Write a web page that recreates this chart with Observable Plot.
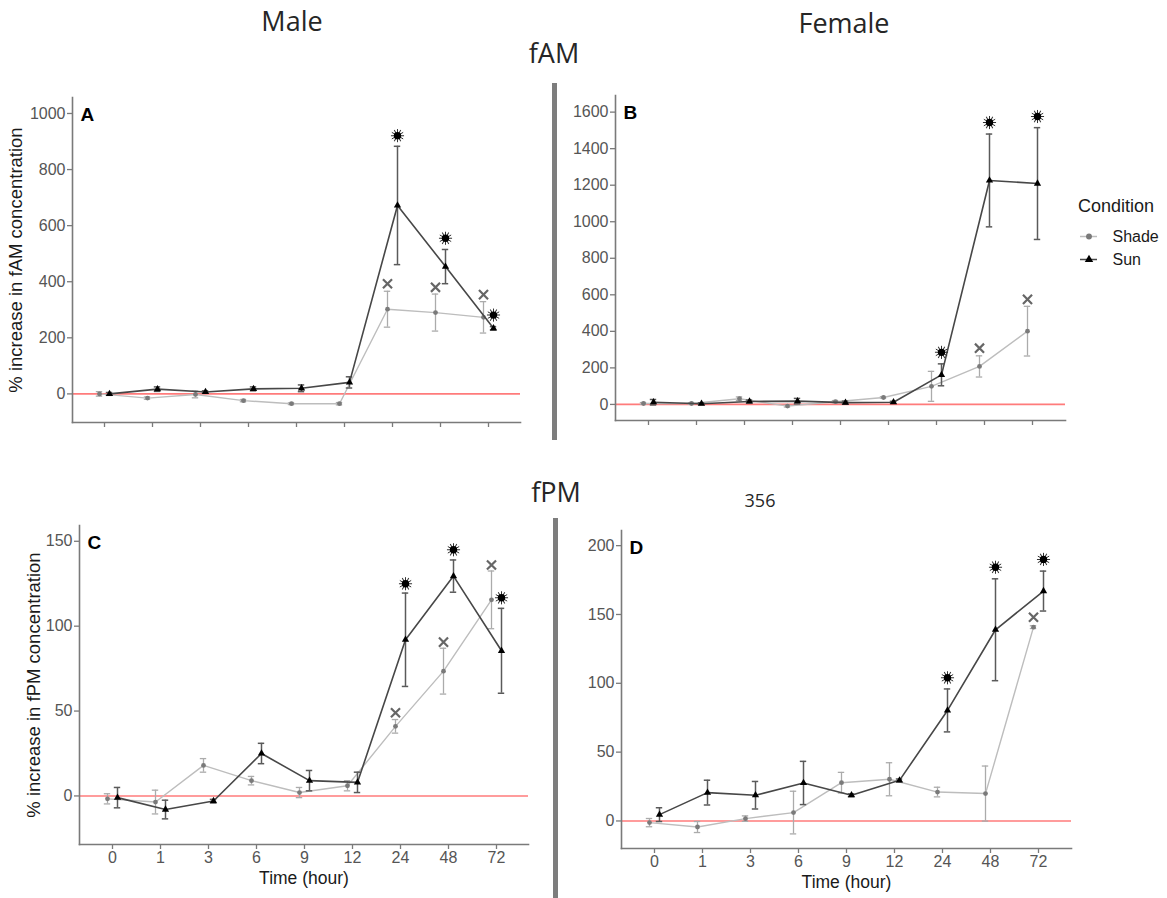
<!DOCTYPE html>
<html><head><meta charset="utf-8">
<script src="https://cdn.jsdelivr.net/npm/d3@7"></script>
<script src="https://cdn.jsdelivr.net/npm/@observablehq/plot@0.6"></script>
<style>
body{margin:0;background:#fff;}
#wrap{position:relative;width:1167px;height:898px;overflow:hidden;background:#fff;font-family:"Liberation Sans",Arial,sans-serif;}
.ttl{position:absolute;font-family:"Open Sans",sans-serif;color:#262626;line-height:1;white-space:nowrap;transform:translateX(-50%);}
.sep{position:absolute;background:#7d7d7d;}
</style></head><body><div id="wrap"></div>
<script>
// ---------- data ----------
const times = ["0","1","3","6","9","12","24","48","72"];
const conditions = ["Shade","Sun"];

// A: male fAM
const aSun      = [0, 17, 7, 18, 20, 41, 672, 454, 234];
const aSunErr   = [5, 8, 4, 7, 12, 20, 211, 61, 6];
const aShade    = [0, -15, -2, -24, -35, -35, 302, 290, 273];
const aShadeErr = [8, 4, 12, 4, 3, 4, 64, 66, 56];
const aSunMark  = [null, null, null, null, null, null, 921, 555, 281];
const aShadeMark= [null, null, null, null, null, null, 393, 380, 354];

// B: female fAM
const bSun      = [12, 4, 16, 18, 10, 12, 162, 1226, 1209];
const bSunErr   = [15, 5, 8, 15, 8, 5, 60, 254, 306];
const bShade    = [5, 5, 31, -9, 15, 38, 99, 208, 401];
const bShadeErr = [5, 4, 10, 5, 6, 4, 82, 58, 136];
const bSunMark  = [null, null, null, null, null, null, 285, 1543, 1576];
const bShadeMark= [null, null, null, null, null, null, null, 308, 575];

// C: male fPM
const cSun      = [-1, -8, -3, 25, 9, 8, 92, 129.5, 85.5];
const cSunErr   = [6, 5.5, 1, 6, 6, 6, 27.5, 9.5, 25];
const cShade    = [-1.7, -3.6, 18, 9, 2, 6, 41, 73.5, 115.5];
const cShadeErr = [3, 7, 4, 2.5, 3, 3, 4, 13.5, 17];
const cSunMark  = [null, null, null, null, null, null, 125, 145, 116.7];
const cShadeMark= [null, null, null, null, null, null, 49, 90.6, 136];

// D: female fPM
const dSun      = [4.6, 20.6, 18.7, 27.6, 18.7, 29.5, 80.3, 138.9, 167];
const dSunErr   = [5, 9, 10, 15.7, 1, 1, 15.6, 37, 14.5];
const dShade    = [-1.2, -4.4, 1.7, 6.1, 27.8, 30.3, 21, 19.9, 140.8];
const dShadeErr = [3, 4, 2, 15.5, 7.5, 12, 3.5, 20, 1];
const dSunMark  = [null, null, null, null, null, null, 104, 184.3, 190];
const dShadeMark= [null, null, null, null, null, null, null, null, 148];

const ticksA = [0, 200, 400, 600, 800, 1000];
const ticksB = [0, 200, 400, 600, 800, 1000, 1200, 1400, 1600];
const ticksC = [0, 50, 100, 150];
const ticksD = [0, 50, 100, 150, 200];

// ---------- styles ----------
const C = {
  shadeLine: "#bdbdbd", shadeErr: "#ababab", shadeDot: "#7a7a7a", shadeX: "#666",
  sunLine: "#474747", sunErr: "#5a5a5a", sunDot: "#000",
  axis: "#7a7a7a", tick: "#555", title: "#1a1a1a", zero: "#ff7b7b"
};
const FONT = "Liberation Sans, Arial, sans-serif";

const wrap = document.getElementById("wrap");
function place(el, left, top) {
  el.style.position = "absolute"; el.style.left = left + "px"; el.style.top = top + "px";
  wrap.appendChild(el);
}

function panel(o) {
  const rows = (v, e, m) => times.map((t, i) => ({time: t, v: v[i], lo: v[i] - e[i], hi: v[i] + e[i], m: m[i]}));
  const sh = rows(o.shade, o.shadeErr, o.shadeMark);
  const su = rows(o.sun, o.sunErr, o.sunMark);
  const dodge = 5;
  const stars = su.filter(d => d.m != null);
  const marks = [
    Plot.ruleY([0], {stroke: C.zero, strokeWidth: 1.6}),
    // shade
    Plot.ruleX(sh, {x: "time", y1: "lo", y2: "hi", stroke: C.shadeErr, strokeWidth: 1.3, dx: -dodge}),
    Plot.tickY(sh, {x: "time", y: "hi", stroke: C.shadeErr, strokeWidth: 1.3, insetLeft: 1.8, insetRight: 1.8, dx: -dodge}),
    Plot.tickY(sh, {x: "time", y: "lo", stroke: C.shadeErr, strokeWidth: 1.3, insetLeft: 1.8, insetRight: 1.8, dx: -dodge}),
    Plot.line(sh, {x: "time", y: "v", stroke: C.shadeLine, strokeWidth: 1.4, dx: -dodge}),
    Plot.dot(sh, {x: "time", y: "v", r: 2.4, fill: C.shadeDot, dx: -dodge}),
    // sun
    Plot.ruleX(su, {x: "time", y1: "lo", y2: "hi", stroke: C.sunErr, strokeWidth: 1.5, dx: dodge}),
    Plot.tickY(su, {x: "time", y: "hi", stroke: C.sunErr, strokeWidth: 1.5, insetLeft: 1.8, insetRight: 1.8, dx: dodge}),
    Plot.tickY(su, {x: "time", y: "lo", stroke: C.sunErr, strokeWidth: 1.5, insetLeft: 1.8, insetRight: 1.8, dx: dodge}),
    Plot.line(su, {x: "time", y: "v", stroke: C.sunLine, strokeWidth: 1.6, dx: dodge}),
    Plot.dot(su, {x: "time", y: "v", r: 2.7, symbol: "triangle", fill: C.sunDot, dx: dodge}),
    // significance marks
    Plot.dot(sh.filter(d => d.m != null), {x: "time", y: "m", symbol: "times", r: 4.2, stroke: C.shadeX, strokeWidth: 2.2, dx: -dodge}),
    Plot.dot(stars, {x: "time", y: "m", symbol: "asterisk", r: 6.2, stroke: "#333", strokeWidth: 1, dx: dodge}),
    Plot.dot(stars, {x: "time", y: "m", symbol: "asterisk", r: 6.2, rotate: 30, stroke: "#333", strokeWidth: 1, dx: dodge}),
    Plot.dot(stars, {x: "time", y: "m", r: 3.7, fill: "#000", dx: dodge}),
    // panel letter
    Plot.text([o.letter], {text: d => d, frameAnchor: "top-left", textAnchor: "start", lineAnchor: "top", dx: 8, dy: 10, fontSize: 19, fontWeight: "bold", fill: "#000"}),
    // axes
    Plot.frame({anchor: "left", stroke: C.axis, strokeWidth: 1.6}),
    Plot.frame({anchor: "bottom", stroke: C.axis, strokeWidth: 1.6}),
    Plot.axisY({ticks: o.yTicks, tickFormat: "d", tickSize: 5, tickPadding: 2, fontSize: 16, fill: C.tick, stroke: C.axis, strokeWidth: 1.3, label: null}),
    o.xLabels
      ? Plot.axisX({tickSize: 5, tickPadding: 2, fontSize: 16, fill: C.tick, stroke: C.axis, strokeWidth: 1.3, label: null})
      : Plot.axisX({tickSize: 5, tickFormat: () => "", stroke: C.axis, strokeWidth: 1.3, label: null})
  ];
  if (o.yLabel) marks.push(Plot.axisY({ticks: [], tickSize: 0, label: o.yLabel, labelAnchor: "center", labelArrow: "none", labelOffset: o.yLabelOffset, fontSize: 18.5, fill: C.title}));
  if (o.xLabel) marks.push(Plot.axisX({ticks: [], tickSize: 0, label: o.xLabel, labelAnchor: "center", labelArrow: "none", labelOffset: o.xLabelOffset, fontSize: 17.5, fill: C.title}));
  return Plot.plot({
    width: o.width, height: o.height,
    marginLeft: o.ml, marginRight: o.mr, marginTop: o.mt, marginBottom: o.mb,
    style: {fontFamily: FONT, fontSize: "16px", background: "transparent", overflow: "visible"},
    x: {type: "band", domain: times, paddingInner: 0.8, paddingOuter: 0.5},
    y: {domain: o.yDomain},
    marks
  });
}

// A
place(panel({letter: "A", sun: aSun, sunErr: aSunErr, shade: aShade, shadeErr: aShadeErr, sunMark: aSunMark, shadeMark: aShadeMark,
  yTicks: ticksA, yDomain: [-102, 1057], yLabel: "% increase in fAM concentration", yLabelOffset: 64,
  width: 540, height: 362, ml: 72, mr: 20, mt: 17, mb: 20}), 0, 80);
// B
place(panel({letter: "B", sun: bSun, sunErr: bSunErr, shade: bShade, shadeErr: bShadeErr, sunMark: bSunMark, shadeMark: bShadeMark,
  yTicks: ticksB, yDomain: [-88, 1691],
  width: 520, height: 360, ml: 55, mr: 15, mt: 15, mb: 20}), 560, 80);
// C
place(panel({letter: "C", sun: cSun, sunErr: cSunErr, shade: cShade, shadeErr: cShadeErr, sunMark: cSunMark, shadeMark: cShadeMark,
  yTicks: ticksC, yDomain: [-28.6, 159.3], yLabel: "% increase in fPM concentration", yLabelOffset: 53,
  xLabels: true, xLabel: "Time (hour)", xLabelOffset: 39,
  width: 545, height: 384, ml: 79, mr: 17, mt: 15, mb: 50}), 0, 510);
// D
place(panel({letter: "D", sun: dSun, sunErr: dSunErr, shade: dShade, shadeErr: dShadeErr, sunMark: dSunMark, shadeMark: dShadeMark,
  yTicks: ticksD, yDomain: [-20, 211],
  xLabels: true, xLabel: "Time (hour)", xLabelOffset: 39,
  width: 520, height: 379, ml: 56, mr: 14, mt: 15, mb: 46}), 565, 515);

// legend
const legColor = {Shade: C.shadeLine, Sun: C.sunLine};
const legDot = {Shade: C.shadeDot, Sun: C.sunDot};
const legSym = {Shade: "circle", Sun: "triangle"};
const legR = {Shade: 2.4, Sun: 2.7};
const leg = Plot.plot({
  width: 90, height: 46, marginLeft: 2, marginRight: 71, marginTop: 0, marginBottom: 0,
  style: {fontFamily: FONT, background: "transparent", overflow: "visible"},
  y: {type: "point", domain: conditions, range: [11, 34], padding: 0, axis: null},
  marks: [
    Plot.ruleY(conditions, {y: d => d, stroke: d => legColor[d], strokeWidth: 1.5}),
    Plot.dot(conditions, {y: d => d, frameAnchor: "middle", symbol: d => legSym[d], r: d => legR[d], fill: d => legDot[d]}),
    Plot.text(conditions, {y: d => d, text: d => d, frameAnchor: "right", textAnchor: "start", dx: 15, fontSize: 16, fill: C.title})
  ]
});
place(leg, 1078, 225);
const legT = document.createElement("div");
legT.textContent = "Condition";
legT.style.cssText = "font-family:'Liberation Sans',Arial,sans-serif;font-size:18px;line-height:1;color:#1a1a1a;white-space:nowrap;";
place(legT, 1078, 197);

// titles
function title(text, cx, top, size) {
  const d = document.createElement("div");
  d.className = "ttl"; d.textContent = text; d.style.fontSize = size + "px";
  d.style.left = cx + "px"; d.style.top = top + "px";
  wrap.appendChild(d);
}
title("Male", 292, 7, 27);
title("Female", 844, 9, 27);
title("fAM", 554, 39, 27);
title("fPM", 556, 478, 27);
title("356", 760, 491, 18);

// separators
function sep(left, top, h) {
  const d = document.createElement("div");
  d.className = "sep"; d.style.left = left + "px"; d.style.top = top + "px";
  d.style.width = "4.5px"; d.style.height = h + "px";
  wrap.appendChild(d);
}
sep(552, 83, 357);
sep(553, 518, 380);
</script>
</body></html>
